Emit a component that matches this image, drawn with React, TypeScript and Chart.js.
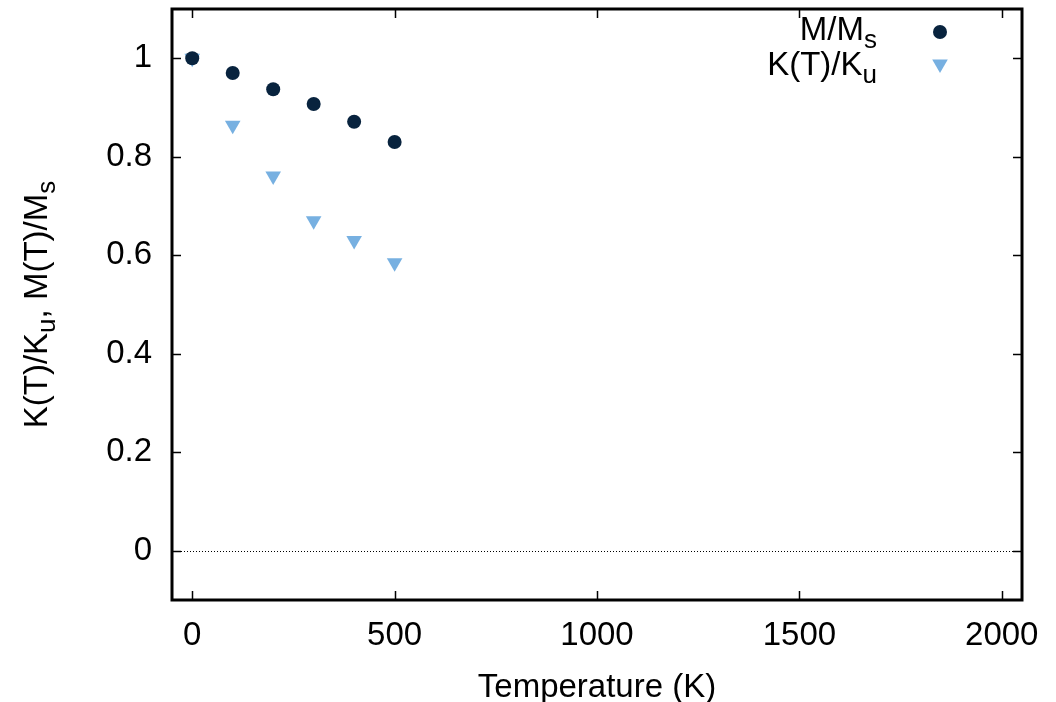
import React, { useEffect, useRef } from "react";
import { Chart, registerables } from "chart.js";
import { drawPoint } from "chart.js/helpers";

Chart.register(...registerables);

const temperatures = [0, 100, 200, 300, 400, 500];
const magnetization = [1.0, 0.97, 0.937, 0.907, 0.871, 0.83];
const anisotropy = [1.0, 0.864, 0.761, 0.67, 0.63, 0.585];

const xTicks = [0, 500, 1000, 1500, 2000];
const yTicks = [0, 0.2, 0.4, 0.6, 0.8, 1];

const FONT_FAMILY = "'Liberation Sans', Arial, sans-serif";
const FONT_SIZE = 33;
const SUB_SIZE = 26;
const SUB_SHIFT = 8;
const M_COLOR = "#08233e";
const K_COLOR = "#77b0e1";

type Part = { t: string; sub?: boolean };

function measureParts(ctx: CanvasRenderingContext2D, parts: Part[]) {
  let w = 0;
  for (const p of parts) {
    ctx.font = `${p.sub ? SUB_SIZE : FONT_SIZE}px ${FONT_FAMILY}`;
    w += ctx.measureText(p.t).width;
  }
  return w;
}

function drawParts(ctx: CanvasRenderingContext2D, parts: Part[], x: number, y: number) {
  let cx = x;
  ctx.textAlign = "left";
  ctx.textBaseline = "alphabetic";
  for (const p of parts) {
    ctx.font = `${p.sub ? SUB_SIZE : FONT_SIZE}px ${FONT_FAMILY}`;
    ctx.fillText(p.t, cx, y + (p.sub ? SUB_SHIFT : 0));
    cx += ctx.measureText(p.t).width;
  }
}

const framePlugin = {
  id: "gnuplotFrame",
  beforeDatasetsDraw(chart: any) {
    const { ctx, chartArea, scales } = chart;
    const { left, right } = chartArea;
    const y0 = scales.y.getPixelForValue(0);
    ctx.save();
    ctx.strokeStyle = "#000";
    ctx.lineWidth = 1;
    ctx.setLineDash([1, 2]);
    ctx.beginPath();
    ctx.moveTo(left, Math.round(y0) + 0.5);
    ctx.lineTo(right, Math.round(y0) + 0.5);
    ctx.stroke();
    ctx.restore();
  },
  afterDraw(chart: any) {
    const { ctx, chartArea, scales } = chart;
    const { left, right, top, bottom } = chartArea;
    ctx.save();
    ctx.strokeStyle = "#000";
    ctx.lineWidth = 1.5;
    const tl = 9;
    ctx.beginPath();
    for (const v of xTicks) {
      const px = Math.round(scales.x.getPixelForValue(v)) + 0.5;
      ctx.moveTo(px, bottom);
      ctx.lineTo(px, bottom - tl);
      ctx.moveTo(px, top);
      ctx.lineTo(px, top + tl);
    }
    for (const v of yTicks) {
      const py = Math.round(scales.y.getPixelForValue(v)) + 0.5;
      ctx.moveTo(left, py);
      ctx.lineTo(left + tl, py);
      ctx.moveTo(right, py);
      ctx.lineTo(right - tl, py);
    }
    ctx.stroke();
    ctx.lineWidth = 3;
    ctx.strokeRect(left, top, right - left, bottom - top);

    ctx.fillStyle = "#000";
    // X title
    const xt: Part[] = [{ t: "Temperature (K)" }];
    const xw = measureParts(ctx, xt);
    drawParts(ctx, xt, (left + right) / 2 - xw / 2, 697);

    // Y title
    const yt: Part[] = [
      { t: "K(T)/K" },
      { t: "u", sub: true },
      { t: ", M(T)/M" },
      { t: "s", sub: true },
    ];
    const yw = measureParts(ctx, yt);
    ctx.save();
    ctx.translate(47, (top + bottom) / 2);
    ctx.rotate(-Math.PI / 2);
    drawParts(ctx, yt, -yw / 2, 0);
    ctx.restore();

    // Legend
    const l1: Part[] = [{ t: "M/M" }, { t: "s", sub: true }];
    const l2: Part[] = [{ t: "K(T)/K" }, { t: "u", sub: true }];
    const textRight = 877;
    drawParts(ctx, l1, textRight - measureParts(ctx, l1), 40);
    drawParts(ctx, l2, textRight - measureParts(ctx, l2), 75);

    ctx.fillStyle = M_COLOR;
    ctx.strokeStyle = M_COLOR;
    ctx.lineWidth = 0;
    drawPoint(ctx, { pointStyle: "circle", radius: 7, rotation: 0, borderWidth: 0 } as any, 940, 32);
    ctx.fillStyle = K_COLOR;
    ctx.strokeStyle = K_COLOR;
    drawPoint(ctx, { pointStyle: "triangle", radius: 9, rotation: 180, borderWidth: 0 } as any, 940, 64);
    ctx.restore();
  },
};

export default function App() {
  const canvasRef = useRef<HTMLCanvasElement | null>(null);

  useEffect(() => {
    if (!canvasRef.current) return;
    const chart = new Chart(canvasRef.current, {
      type: "scatter",
      data: {
        datasets: [
          {
            label: "M/Ms",
            data: temperatures.map((t, i) => ({ x: t, y: magnetization[i] })),
            pointStyle: "circle",
            pointRadius: 7,
            pointBackgroundColor: M_COLOR,
            pointBorderColor: M_COLOR,
            pointBorderWidth: 0,
            showLine: false,
          },
          {
            label: "K(T)/Ku",
            data: temperatures.map((t, i) => ({ x: t, y: anisotropy[i] })),
            pointStyle: "triangle",
            pointRotation: 180,
            pointRadius: 9,
            pointBackgroundColor: K_COLOR,
            pointBorderColor: K_COLOR,
            pointBorderWidth: 0,
            showLine: false,
          },
        ],
      },
      options: {
        animation: false,
        responsive: false,
        events: [],
        layout: { padding: { left: 0, top: 6, right: 34, bottom: 0 } },
        plugins: {
          legend: { display: false },
          tooltip: { enabled: false },
        },
        scales: {
          x: {
            type: "linear",
            min: -50,
            max: 2050,
            grid: { display: false, drawTicks: false },
            border: { display: false },
            afterBuildTicks: (scale: any) => {
              scale.ticks = xTicks.map((v) => ({ value: v }));
            },
            afterFit: (scale: any) => {
              scale.height = 102;
              scale.paddingLeft = 0;
              scale.paddingRight = 0;
              scale.paddingTop = 0;
              scale.paddingBottom = 0;
            },
            ticks: {
              padding: 16,
              maxRotation: 0,
              autoSkip: false,
              color: "#000",
              font: { family: FONT_FAMILY, size: FONT_SIZE },
              callback: (v: any) => String(v),
            },
          },
          y: {
            type: "linear",
            min: -0.1,
            max: 1.1,
            grid: { display: false, drawTicks: false },
            border: { display: false },
            afterBuildTicks: (scale: any) => {
              scale.ticks = yTicks.map((v) => ({ value: v }));
            },
            afterFit: (scale: any) => {
              scale.width = 172;
              scale.paddingLeft = 0;
              scale.paddingRight = 0;
              scale.paddingTop = 0;
              scale.paddingBottom = 0;
            },
            ticks: {
              padding: 20,
              autoSkip: false,
              color: "#000",
              font: { family: FONT_FAMILY, size: FONT_SIZE },
              callback: (v: any) => String(Math.round(Number(v) * 10) / 10),
            },
          },
        },
      },
      plugins: [framePlugin],
    });
    return () => chart.destroy();
  }, []);

  return (
    <div style={{ position: "absolute", left: 0, top: 0, width: 1056, height: 702, background: "#fff" }}>
      <canvas ref={canvasRef} width={1056} height={702} style={{ display: "block" }} />
    </div>
  );
}
